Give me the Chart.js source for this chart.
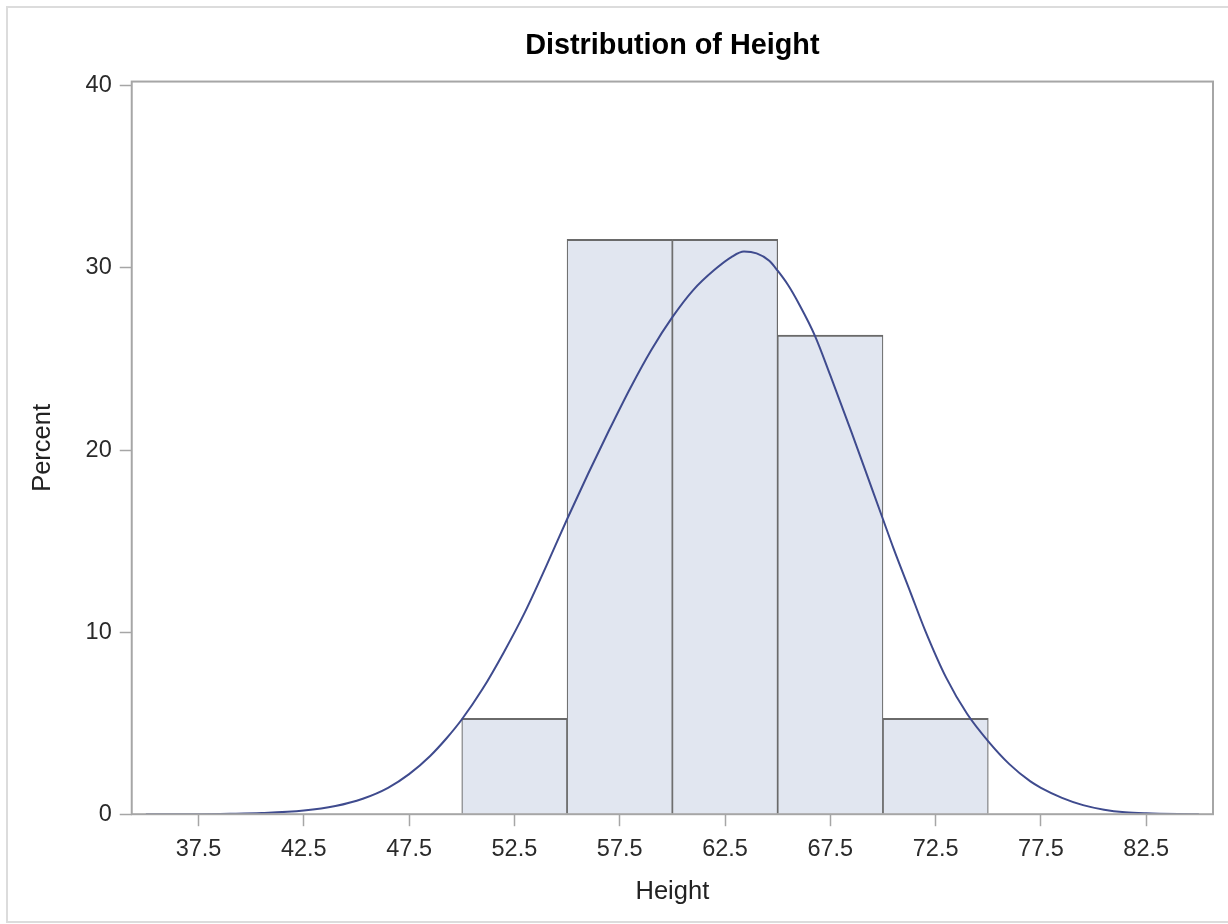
<!DOCTYPE html>
<html>
<head>
<meta charset="utf-8">
<title>Distribution of Height</title>
<script src="https://cdn.jsdelivr.net/npm/chart.js@4.4.1/dist/chart.umd.min.js"></script>
<style>
  html, body { margin: 0; padding: 0; background: #fff; }
  #wrap { position: relative; width: 1228px; height: 924px; }
  #frame {
    position: absolute; left: 6px; top: 6px; right: 0; bottom: 1px;
    border: 2px solid #dcdcdc; border-right: none; pointer-events: none;
  }
  canvas { display: block; }
</style>
</head>
<body>
<div id="wrap">
  <canvas id="hist" width="1228" height="924"></canvas>
  <div id="frame"></div>
</div>
<script>
// histogram bins (midpoints) and percent of observations per bin
const binMids = [52.5, 57.5, 62.5, 67.5, 72.5];
const binPercents = [5.26, 31.58, 31.58, 26.32, 5.26];

// density curve, percent scale
const curveX = [35.0, 37.5, 39.0, 40.5, 42.5, 44.0, 45.3, 46.5, 47.5, 48.5, 49.3, 50.0,
  51.0, 52.0, 53.0, 54.0, 55.0, 56.0, 57.0, 58.0, 59.0, 60.0, 61.0, 62.0, 62.8, 63.4,
  64.0, 64.6, 65.0, 65.5, 66.0, 66.76, 67.5, 68.5, 69.5, 70.0, 70.5, 71.3, 72.0, 73.0,
  74.0, 75.0, 76.0, 77.0, 77.5, 78.5, 79.5, 80.5, 81.5, 82.5, 84.0, 85.0];
const curveY = [0.0, 0.0, 0.02, 0.06, 0.2, 0.45, 0.85, 1.45, 2.2, 3.2, 4.2, 5.2,
  6.9, 8.9, 11.1, 13.6, 16.2, 18.7, 21.1, 23.4, 25.5, 27.3, 28.8, 29.9, 30.6, 30.9,
  30.8, 30.4, 29.85, 29.05, 28.05, 26.3, 24.1, 21.0, 17.8, 16.2, 14.6, 12.2, 10.1, 7.5,
  5.5, 4.0, 2.75, 1.8, 1.45, 0.9, 0.5, 0.25, 0.11, 0.05, 0.01, 0.0];

const xTickValues = [37.5, 42.5, 47.5, 52.5, 57.5, 62.5, 67.5, 72.5, 77.5, 82.5];
const yTickValues = [0, 10, 20, 30, 40];
const xRange = [34.33, 85.67];
const yRange = [0, 40.24];

const FONT = "'Liberation Sans', Arial, Helvetica, sans-serif";
const AXIS_GRAY = '#a6a6a6';

// box around the plot area
const plotFrame = {
  id: 'plotFrame',
  afterDatasetsDraw(chart) {
    const { ctx, chartArea: a } = chart;
    ctx.save();
    ctx.strokeStyle = AXIS_GRAY;
    ctx.lineWidth = 2;
    ctx.strokeRect(a.left, a.top, a.right - a.left, a.bottom - a.top);
    ctx.restore();
  }
};

new Chart(document.getElementById('hist'), {
  type: 'bar',
  data: {
    datasets: [
      {
        type: 'line',
        order: 0,
        data: curveX.map((x, i) => ({ x: x, y: curveY[i] })),
        borderColor: '#3f4b8e',
        borderWidth: 2,
        pointRadius: 0,
        fill: false,
        cubicInterpolationMode: 'monotone'
      },
      {
        type: 'bar',
        order: 1,
        data: binMids.map((x, i) => ({ x: x, y: binPercents[i] })),
        backgroundColor: '#e1e6f0',
        borderColor: '#6a6a6a',
        borderWidth: { top: 2, left: 1.2, right: 1.2, bottom: 0 },
        borderSkipped: false,
        barPercentage: 1,
        categoryPercentage: 1
      }
    ]
  },
  options: {
    responsive: false,
    animation: false,
    events: [],
    layout: { padding: { left: 0, right: 15, top: 0, bottom: 0 } },
    plugins: {
      legend: { display: false },
      tooltip: { enabled: false },
      title: {
        display: true,
        text: 'Distribution of Height',
        fullSize: false,
        color: '#000',
        font: { family: FONT, size: 28.8, weight: 'bold', lineHeight: 1.2 },
        padding: { top: 29, bottom: 18 }
      }
    },
    scales: {
      x: {
        type: 'linear',
        min: xRange[0],
        max: xRange[1],
        offset: false,
        afterBuildTicks: s => { s.ticks = xTickValues.map(v => ({ value: v })); },
        grid: { display: true, drawOnChartArea: false, offset: false, tickLength: 12, tickColor: AXIS_GRAY, tickWidth: 1.5 },
        border: { display: false },
        ticks: {
          color: '#2a2a2a',
          padding: 9,
          maxRotation: 0,
          autoSkip: false,
          font: { family: FONT, size: 23.5, lineHeight: 1.2 },
          callback: v => v.toFixed(1)
        },
        title: {
          display: true,
          text: 'Height',
          color: '#222',
          font: { family: FONT, size: 25.5, lineHeight: 1.2 },
          padding: { top: 4, bottom: 17 }
        }
      },
      y: {
        type: 'linear',
        min: yRange[0],
        max: yRange[1],
        afterBuildTicks: s => { s.ticks = yTickValues.map(v => ({ value: v })); },
        grid: { display: true, drawOnChartArea: false, tickLength: 12, tickColor: AXIS_GRAY, tickWidth: 1.5 },
        border: { display: false },
        ticks: {
          color: '#2a2a2a',
          padding: 8,
          font: { family: FONT, size: 23.5, lineHeight: 1.2 }
        },
        title: {
          display: true,
          text: 'Percent',
          color: '#222',
          font: { family: FONT, size: 25.5, lineHeight: 1.2 },
          padding: { top: 28, bottom: 19 }
        }
      }
    }
  },
  plugins: [plotFrame]
});
</script>
</body>
</html>
